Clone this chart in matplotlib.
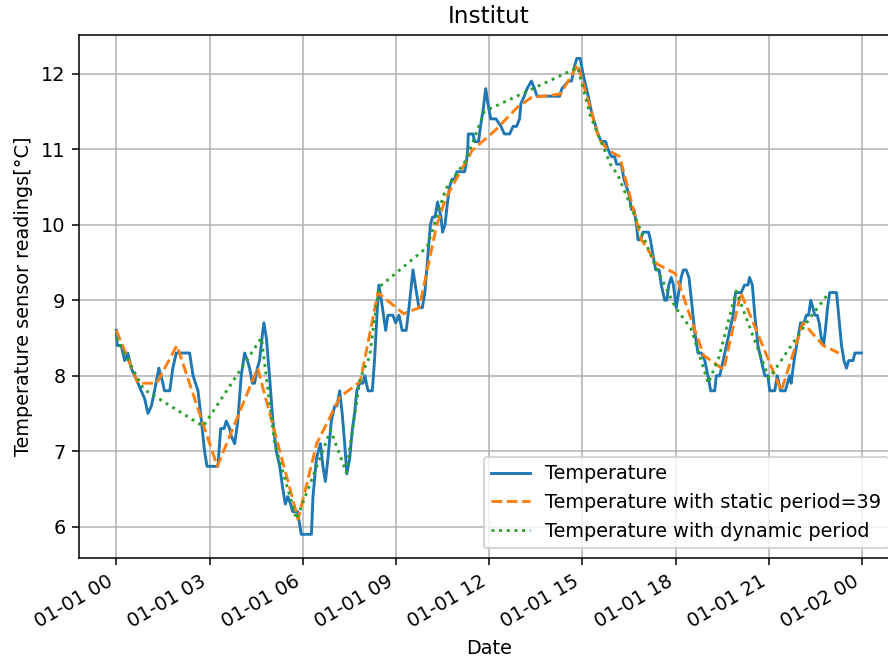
import numpy as np
import pandas as pd
import matplotlib
matplotlib.use("Agg")
import matplotlib.pyplot as plt
import matplotlib.dates as mdates

# hours since 2019-01-01 00:00 and temperature readings
temp_hours = [0.00, 0.03, 0.16, 0.27, 0.37, 0.48, 0.59, 0.70, 0.80, 0.91, 1.02, 1.13, 1.23, 1.37,
              1.50, 1.55, 1.72, 1.82, 1.93, 2.36, 2.47, 2.63, 2.74, 2.84, 2.92, 3.27, 3.36, 3.47,
              3.54, 3.65, 3.70, 3.81, 3.91, 4.02, 4.13, 4.22, 4.29, 4.38, 4.45, 4.54, 4.61, 4.69,
              4.75, 4.83, 4.93, 5.04, 5.15, 5.26, 5.36, 5.44, 5.52, 5.61, 5.68, 5.84, 5.95, 6.28,
              6.33, 6.44, 6.57, 6.65, 6.73, 6.81, 6.92, 7.03, 7.10, 7.19, 7.27, 7.35, 7.42, 7.51,
              7.60, 7.67, 7.74, 7.83, 7.94, 8.00, 8.10, 8.24, 8.31, 8.39, 8.45, 8.53, 8.60, 8.67,
              8.74, 8.90, 8.99, 9.10, 9.20, 9.33, 9.42, 9.55, 9.66, 9.74, 9.85, 9.93, 10.03, 10.11,
              10.18, 10.26, 10.34, 10.45, 10.50, 10.58, 10.66, 10.73, 10.80, 10.89, 10.96, 11.10,
              11.21, 11.26, 11.31, 11.33, 11.48, 11.53, 11.66, 11.72, 11.80, 11.89, 11.96, 12.05,
              12.22, 12.38, 12.49, 12.66, 12.77, 12.88, 12.98, 13.02, 13.13, 13.22, 13.36, 13.46,
              13.54, 14.27, 14.34, 14.55, 14.65, 14.75, 14.82, 14.93, 15.02, 15.13, 15.19, 15.29,
              15.36, 15.43, 15.50, 15.61, 15.75, 15.82, 15.93, 16.04, 16.10, 16.25, 16.34, 16.42,
              16.50, 16.58, 16.66, 16.74, 16.79, 16.87, 16.95, 17.13, 17.19, 17.27, 17.36, 17.47,
              17.54, 17.65, 17.72, 17.78, 17.86, 17.93, 18.02, 18.10, 18.18, 18.25, 18.34, 18.43,
              18.51, 18.61, 18.72, 18.83, 18.94, 19.04, 19.13, 19.26, 19.31, 19.42, 19.53, 19.69,
              19.85, 19.93, 20.11, 20.22, 20.33, 20.38, 20.47, 20.55, 20.65, 20.76, 20.87, 20.97,
              21.03, 21.19, 21.27, 21.38, 21.53, 21.60, 21.67, 21.72, 21.78, 21.85, 21.94, 22.02,
              22.13, 22.21, 22.28, 22.35, 22.42, 22.48, 22.56, 22.62, 22.69, 22.76, 22.82, 22.89,
              22.96, 23.18, 23.25, 23.34, 23.42, 23.50, 23.57, 23.71, 23.77, 23.98]
temp_values = [8.6, 8.4, 8.4, 8.2, 8.3, 8.1, 8.0, 7.9, 7.8, 7.7, 7.5, 7.6, 7.8, 8.1,
               7.9, 7.8, 7.8, 8.1, 8.3, 8.3, 8.0, 7.8, 7.4, 7.0, 6.8, 6.8, 7.3, 7.3,
               7.4, 7.3, 7.2, 7.1, 7.4, 8.0, 8.3, 8.2, 8.1, 7.9, 7.9, 8.1, 8.2, 8.5,
               8.7, 8.5, 8.0, 7.4, 7.0, 6.8, 6.5, 6.3, 6.4, 6.3, 6.2, 6.2, 5.9, 5.9,
               6.4, 6.9, 7.1, 6.8, 6.6, 6.9, 7.4, 7.6, 7.6, 7.8, 7.5, 7.1, 6.7, 6.9,
               7.3, 7.5, 7.8, 7.9, 7.9, 8.0, 7.8, 7.8, 8.2, 8.8, 9.2, 9.0, 8.8, 8.6,
               8.8, 8.8, 8.7, 8.8, 8.6, 8.6, 8.9, 9.4, 9.1, 8.9, 8.9, 9.1, 9.6, 10.0,
               10.1, 10.1, 10.3, 10.1, 9.9, 10.0, 10.3, 10.5, 10.6, 10.6, 10.7, 10.7,
               10.7, 10.8, 11.0, 11.2, 11.2, 11.1, 11.1, 11.3, 11.5, 11.8, 11.6, 11.4,
               11.4, 11.3, 11.2, 11.2, 11.3, 11.3, 11.4, 11.6, 11.7, 11.8, 11.9, 11.8,
               11.7, 11.7, 11.8, 11.9, 11.9, 12.1, 12.2, 12.2, 12.0, 11.8, 11.7, 11.5,
               11.4, 11.3, 11.2, 11.1, 11.1, 11.0, 10.9, 10.9, 10.8, 10.8, 10.6, 10.5,
               10.4, 10.2, 10.2, 10.0, 9.8, 9.8, 9.9, 9.9, 9.8, 9.6, 9.4, 9.4,
               9.2, 9.0, 9.0, 9.2, 9.3, 9.2, 8.9, 9.1, 9.3, 9.4, 9.4, 9.3,
               9.0, 8.6, 8.3, 8.3, 8.2, 8.0, 7.8, 7.8, 8.0, 8.0, 8.2, 8.5,
               8.8, 9.1, 9.1, 9.2, 9.2, 9.3, 9.2, 8.8, 8.4, 8.2, 8.0, 8.0,
               7.8, 7.8, 8.0, 7.8, 7.8, 7.9, 8.0, 7.9, 8.1, 8.3, 8.5, 8.7,
               8.7, 8.8, 8.8, 9.0, 8.9, 8.8, 8.8, 8.7, 8.5, 8.4, 8.6, 8.9,
               9.1, 9.1, 8.8, 8.4, 8.2, 8.1, 8.2, 8.2, 8.3, 8.3]

static_hours = [0.00, 0.70, 1.30, 1.95, 3.25, 4.55, 5.85, 6.45, 7.20, 7.85, 8.42, 9.25, 9.75,
                10.30, 10.60, 11.45, 12.20, 12.90, 13.35, 14.30, 14.85, 15.55, 15.85, 16.20,
                16.90, 17.40, 18.00, 18.90, 19.55, 20.10, 21.40, 22.10, 22.75, 23.25]
static_values = [8.6, 7.9, 7.9, 8.4, 6.8, 8.1, 6.1, 7.1, 7.72, 7.92, 9.1, 8.82, 8.9,
                 9.97, 10.35, 10.98, 11.25, 11.55, 11.68, 11.73, 12.12, 11.12, 10.98, 10.9,
                 9.8, 9.48, 9.35, 8.27, 8.08, 9.1, 7.8, 8.7, 8.4, 8.3]

dynamic_hours = [0.00, 0.88, 2.80, 4.67, 5.10, 5.80, 6.90, 7.40, 7.85, 8.15, 8.45, 10.00,
                 10.60, 11.25, 11.85, 14.85, 15.25, 15.90, 16.15, 17.30, 18.00, 18.50,
                 19.05, 19.40, 19.95, 21.00, 21.15, 22.30, 22.90]
dynamic_values = [8.5, 7.82, 7.33, 8.5, 7.1, 6.1, 7.28, 6.72, 7.97, 8.25, 9.17, 9.7,
                  10.47, 10.85, 11.5, 12.08, 11.45, 10.8, 10.65, 9.5, 8.9, 8.62,
                  7.9, 8.25, 9.12, 7.97, 8.05, 8.75, 9.08]

start = pd.Timestamp("2019-01-01")


def to_time(hours):
    return start + pd.to_timedelta(hours, unit="h")


fig = plt.figure(figsize=(6.4, 4.8), dpi=138.75)
ax = fig.add_axes([0.089, 0.162, 0.923, 0.786])

ax.plot(to_time(temp_hours), temp_values, label="Temperature")
ax.plot(to_time(static_hours), static_values, "--", label="Temperature with static period=39")
ax.plot(to_time(dynamic_hours), dynamic_values, ":", label="Temperature with dynamic period")

ax.xaxis.set_major_locator(mdates.HourLocator(byhour=range(0, 24, 3)))
ax.xaxis.set_major_formatter(mdates.DateFormatter("%m-%d %H"))
for lbl in ax.get_xticklabels():
    lbl.set_rotation(30)
    lbl.set_ha("right")

ax.grid(True)
ax.set_title("Institut")
ax.set_xlabel("Date")
ax.set_ylabel("Temperature sensor readings[°C]")
ax.legend(loc="lower right")

fig.savefig("out.png", dpi=138.75)
